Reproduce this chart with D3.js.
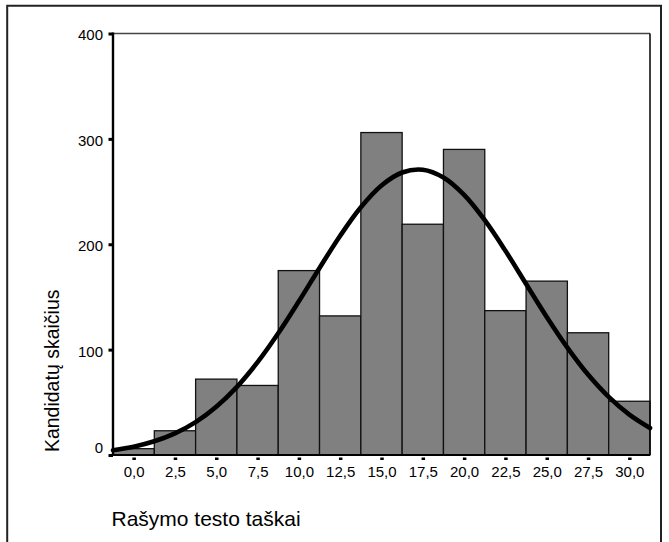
<!DOCTYPE html>
<html>
<head>
<meta charset="utf-8">
<script src="https://cdn.jsdelivr.net/npm/d3@7"></script>
<style>
  html, body { margin: 0; padding: 0; background: #fff; }
  svg { display: block; font-family: "Liberation Sans", Arial, sans-serif; }
</style>
</head>
<body>
<svg id="chart" width="669" height="542"></svg>
<script>
// ---- data ----
const binCenters = [0, 2.5, 5, 7.5, 10, 12.5, 15, 17.5, 20, 22.5, 25, 27.5, 30];
const counts     = [6, 23, 72, 66, 175, 132, 306, 219, 290, 137, 165, 116, 51];
const xTickLabels = ["0,0", "2,5", "5,0", "7,5", "10,0", "12,5", "15,0", "17,5", "20,0", "22,5", "25,0", "27,5", "30,0"];
const yTicks = [0, 100, 200, 300, 400];
const binWidth = 2.5;
// normal curve, points
const curveX = [-1.25, 0, 1.25, 2.5, 3.75, 5, 6.25, 7.5, 8.75, 10, 11.25, 12.5, 13.75, 15, 16.25, 17.5, 18.75, 20, 21.25, 22.5, 23.75, 25, 26.25, 27.5, 28.75, 30, 31.25];
const curveY = [4.6, 7.9, 13, 20.5, 31.2, 45.8, 64.7, 88.1, 115.5, 145.9, 177.5, 208.1, 235.1, 255.8, 268.1, 270.7, 263.3, 246.8, 222.8, 193.8, 162.3, 131, 101.9, 76.3, 55.1, 38.3, 25.6];
const xTitle = "Rašymo testo taškai";
const yTitle = "Kandidatų skaičius";

(function () {
  // ---- layout ----
  const svg = d3.select("#chart");
  const pLeft = 113, pRight = 650, pTop = 33.5, pBottom = 455;

  const x = d3.scaleLinear().domain([-1.25, 31.25]).range([pLeft, pRight]);
  const y = d3.scaleLinear().domain([0, 400]).range([pBottom, pTop]);

  // outer frame (open at the bottom)
  svg.append("path")
    .attr("d", "M7.2,560 V5.7 H661 V560")
    .attr("fill", "none").attr("stroke", "#222").attr("stroke-width", 2);

  // bars
  svg.append("g").selectAll("rect").data(binCenters).join("rect")
    .attr("x", (d) => x(d - binWidth / 2))
    .attr("width", (d) => x(d + binWidth / 2) - x(d - binWidth / 2))
    .attr("y", (d, i) => y(counts[i]))
    .attr("height", (d, i) => y(0) - y(counts[i]))
    .attr("fill", "#808080")
    .attr("stroke", "#111")
    .attr("stroke-width", 1.3);

  // normal curve
  const line = d3.line()
    .x((d, i) => x(curveX[i]))
    .y((d) => y(d))
    .curve(d3.curveCatmullRom);
  svg.append("path")
    .attr("d", line(curveY))
    .attr("fill", "none")
    .attr("stroke", "#000")
    .attr("stroke-width", 4.6)
    .attr("stroke-linejoin", "round")
    .attr("stroke-linecap", "round");

  // plot frame lines
  svg.append("line").attr("x1", pLeft).attr("x2", pRight).attr("y1", pTop).attr("y2", pTop)
    .attr("stroke", "#444").attr("stroke-width", 1.5);
  svg.append("line").attr("x1", pRight).attr("x2", pRight).attr("y1", pTop).attr("y2", pBottom)
    .attr("stroke", "#000").attr("stroke-width", 1.5);
  svg.append("line").attr("x1", pLeft).attr("x2", pRight).attr("y1", pBottom).attr("y2", pBottom)
    .attr("stroke", "#000").attr("stroke-width", 2);
  svg.append("line").attr("x1", pLeft).attr("x2", pLeft).attr("y1", pTop - 1).attr("y2", pBottom + 1)
    .attr("stroke", "#000").attr("stroke-width", 2.4);

  // x axis
  const xAxis = d3.axisBottom(x)
    .tickValues(binCenters)
    .tickFormat((d, i) => xTickLabels[i])
    .tickSizeInner(2.5).tickSizeOuter(0).tickPadding(6);
  const gx = svg.append("g").attr("transform", `translate(0,${pBottom + 2.5})`).call(xAxis);
  gx.select(".domain").remove();
  gx.selectAll(".tick line").attr("stroke", "#000").attr("stroke-width", 3.5);
  gx.selectAll(".tick text").attr("fill", "#000").style("font-size", "15px")
    .style("font-family", "'Liberation Sans', Arial, sans-serif");

  // y axis
  const yAxis = d3.axisLeft(y)
    .tickValues(yTicks)
    .tickFormat(d3.format("d"))
    .tickSizeInner(4.5).tickSizeOuter(0).tickPadding(5.5);
  const gy = svg.append("g").attr("transform", `translate(${pLeft},0)`).call(yAxis);
  gy.select(".domain").remove();
  gy.selectAll(".tick line").attr("stroke", "#000").attr("stroke-width", 3);
  gy.selectAll(".tick text").attr("fill", "#000").style("font-size", "15px")
    .style("font-family", "'Liberation Sans', Arial, sans-serif")
    .attr("dy", "0.43em");
  gy.selectAll(".tick text").filter((d) => d === 0).attr("y", -9);

  // titles
  svg.append("text")
    .attr("x", 111.5).attr("y", 526)
    .attr("fill", "#000")
    .style("font-size", "21px")
    .text(xTitle);

  svg.append("text")
    .attr("transform", "translate(59.3,370.8) rotate(-90)")
    .attr("text-anchor", "middle")
    .attr("fill", "#000")
    .style("font-size", "19.5px")
    .text(yTitle);
})();
</script>
</body>
</html>
